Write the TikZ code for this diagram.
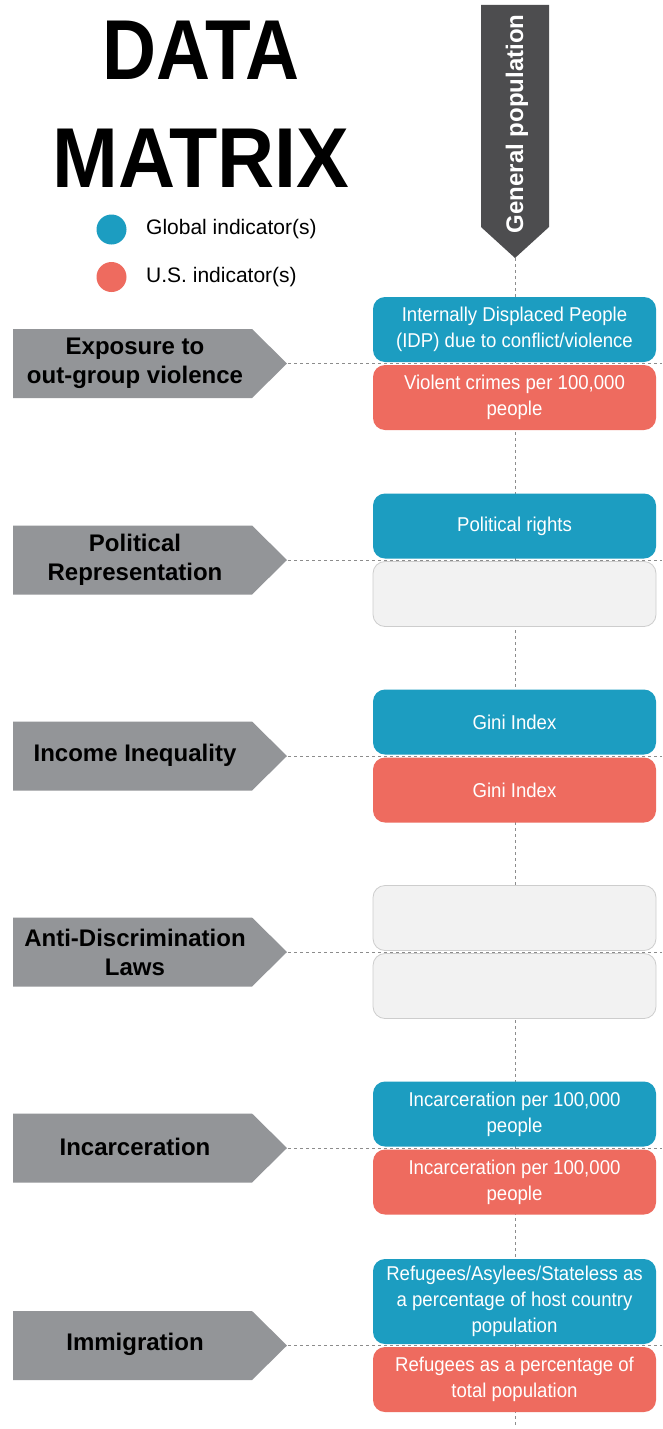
\documentclass[tikz,border=0pt]{standalone}
\usepackage{fontspec}
\usepackage{graphicx}
\setmainfont{Liberation Sans}
\newfontfamily\boxfont[FakeStretch=0.93]{Liberation Sans}
\definecolor{tealc}{HTML}{1C9DC1}
\definecolor{redc}{HTML}{EE6B5F}
\definecolor{taggray}{HTML}{939598}
\definecolor{hdrgray}{HTML}{4D4D4F}
\definecolor{blankc}{HTML}{F2F2F2}
\definecolor{blankedge}{HTML}{CDCDCD}
\definecolor{dashgray}{HTML}{8C8C8C}
\begin{document}
\begin{tikzpicture}[x=1pt,y=-1pt,
  ibox/.style={rounded corners=12pt, minimum width=283pt, minimum height=65pt, inner sep=0pt, align=center, text=white, font=\boxfont\fontsize{20}{26}\selectfont},
  tealbox/.style={ibox, fill=tealc},
  redbox/.style={ibox, fill=redc},
  blankbox/.style={ibox, fill=blankc, draw=blankedge, line width=0.8pt},
  taglabel/.style={font=\bfseries\fontsize{24}{29}\selectfont, align=center, text=black, inner sep=0pt},
  tagshape/.style={fill=taggray},
  dline/.style={draw=dashgray, line width=1pt, dash pattern=on 3pt off 3pt},
  legtext/.style={anchor=west, font=\fontsize{21}{21}\selectfont, inner sep=0pt},
  legdot/.style={circle, minimum size=30pt, inner sep=0pt}
]
\fill[white] (0,0) rectangle (662,1429);
\useasboundingbox (0,0) rectangle (662,1429);

% title
\node[anchor=base, inner sep=0pt, font=\bfseries\fontsize{85}{85}\selectfont] (title1) at (201,80) {\scalebox{0.88}[1]{DATA}};
\node[anchor=base, inner sep=0pt, font=\bfseries\fontsize{85}{85}\selectfont] (title2) at (201,187) {\scalebox{0.93}[1]{MATRIX}};

% legend
\node[legdot, fill=tealc] (lg1) at (111.5,229.5) {};
\node[legtext] (lt1) at (146,229.5) {Global indicator(s)};
\node[legdot, fill=redc] (lg2) at (111.5,277) {};
\node[legtext] (lt2) at (146,277) {U.S. indicator(s)};

% header
\fill[hdrgray] (481,5) -- (549,5) -- (549,227) -- (515,258) -- (481,227) -- cycle;
\coordinate (hdtip) at (515,258);
\coordinate (vend) at (515,1426);
\node[rotate=90, anchor=base, inner sep=0pt, text=white, font=\bfseries\fontsize{24}{24}\selectfont] (hdtext) at (523,124) {General population};

% vertical dashed line
\draw[dline] (hdtip) -- (vend);

% tags and horizontal dashed lines
\foreach \i/\c in {1/363.5, 2/560, 3/756, 4/952, 5/1148, 6/1345.5}{
  \fill[tagshape] (13,\c-34.5) -- (252,\c-34.5) -- (287,\c) -- (252,\c+34.5) -- (13,\c+34.5) -- cycle;
  \coordinate (tip\i) at (288,\c);
  \coordinate (rend\i) at (662,\c);
  \draw[dline] (tip\i) -- (rend\i);
}

\node[taglabel] (lab1) at (135,363.5) {Exposure to\\out-group violence};
\node[taglabel] (lab2) at (135,560) {Political\\Representation};
\node[taglabel] (lab3) at (135,755) {Income Inequality};
\node[taglabel] (lab4) at (135,952) {Anti-Discrimination\\Laws};
\node[taglabel] (lab5) at (135,1147) {Incarceration};
\node[taglabel] (lab6) at (135,1344) {Immigration};

% indicator boxes
\node[tealbox] (g1) at (514.5,329.5) {Internally Displaced People\\(IDP) due to conflict/violence};
\node[redbox] (u1) at (514.5,397.5) {Violent crimes per 100,000\\people};

\node[tealbox] (g2) at (514.5,526) {Political rights};
\node[blankbox] (u2) at (514.5,594) {};

\node[tealbox] (g3) at (514.5,722) {Gini Index};
\node[redbox] (u3) at (514.5,790) {Gini Index};

\node[blankbox] (g4) at (514.5,918) {};
\node[blankbox] (u4) at (514.5,986) {};

\node[tealbox] (g5) at (514.5,1114) {Incarceration per 100,000\\people};
\node[redbox] (u5) at (514.5,1182) {Incarceration per 100,000\\people};

\node[tealbox, minimum height=85pt] (g6) at (514.5,1301.5) {Refugees/Asylees/Stateless as\\a percentage of host country\\population};
\node[redbox] (u6) at (514.5,1379.5) {Refugees as a percentage of\\total population};
\end{tikzpicture}
\end{document}
